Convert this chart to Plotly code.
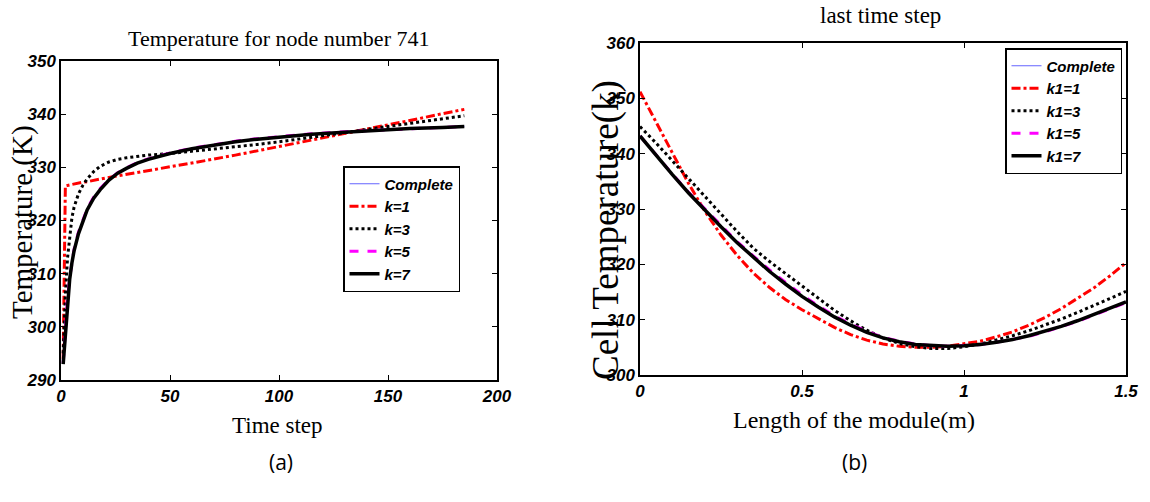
import plotly.graph_objects as go

# ---------------- data: panel (a) ----------------
time_steps = [1, 2, 3, 4, 5, 6, 8, 10, 12, 15, 18, 22, 26, 30, 35, 40, 50, 60, 70,
              80, 90, 100, 115, 130, 145, 160, 175, 185]
a_complete = [293.0, 299.0, 305.0, 309.0, 312.0, 314.3, 317.5, 320.0, 322.0, 324.2,
              325.8, 327.6, 328.9, 329.8, 330.8, 331.5, 332.6, 333.5, 334.2, 334.8,
              335.3, 335.7, 336.2, 336.6, 337.0, 337.3, 337.5, 337.7]
a_k1 = [294.0, 326.5, 326.6, 326.7, 326.8, 326.9, 327.0, 327.2, 327.3, 327.6,
        327.8, 328.1, 328.4, 328.7, 329.1, 329.4, 330.1, 330.8, 331.5, 332.3,
        333.1, 333.9, 335.1, 336.3, 337.5, 338.8, 340.1, 340.9]
a_k3 = [295.0, 306.0, 313.0, 317.5, 320.5, 322.5, 325.0, 326.6, 327.8, 329.2,
        330.2, 331.0, 331.5, 331.8, 332.1, 332.3, 332.6, 333.0, 333.4, 333.8,
        334.3, 334.8, 335.6, 336.5, 337.4, 338.3, 339.1, 339.7]
a_k5 = [293.2, 299.3, 305.3, 309.3, 312.3, 314.6, 317.8, 320.2, 322.2, 324.4,
        326.0, 327.7, 329.0, 329.9, 330.9, 331.6, 332.7, 333.6, 334.3, 334.9,
        335.4, 335.8, 336.3, 336.7, 337.0, 337.3, 337.5, 337.7]
a_k7 = [293.0, 299.0, 305.0, 309.0, 312.0, 314.3, 317.5, 320.0, 322.0, 324.2,
        325.8, 327.6, 328.9, 329.8, 330.8, 331.5, 332.6, 333.5, 334.2, 334.8,
        335.3, 335.7, 336.2, 336.6, 337.0, 337.3, 337.5, 337.7]
a_names = ["Complete", "k=1", "k=3", "k=5", "k=7"]
a_xticks = [0, 50, 100, 150, 200]
a_yticks = [290, 300, 310, 320, 330, 340, 350]

# ---------------- data: panel (b) ----------------
length_m = [0.0, 0.05, 0.1, 0.15, 0.2, 0.25, 0.3, 0.35, 0.4, 0.45, 0.5, 0.55, 0.6,
            0.65, 0.7, 0.75, 0.8, 0.85, 0.9, 0.95, 1.0, 1.05, 1.1, 1.15, 1.2, 1.25,
            1.3, 1.35, 1.4, 1.45, 1.5]
b_complete = [343.2, 339.6, 336.2, 332.9, 329.8, 326.8, 323.9, 321.2, 318.7, 316.4,
              314.2, 312.3, 310.5, 309.0, 307.7, 306.7, 306.0, 305.5, 305.3, 305.2,
              305.3, 305.5, 305.9, 306.4, 307.1, 307.9, 308.8, 309.8, 310.9, 312.0, 313.2]
b_k1 = [351.2, 345.6, 340.2, 334.6, 329.6, 325.3, 321.6, 318.4, 315.8, 313.6,
        311.8, 310.2, 308.6, 307.3, 306.3, 305.6, 305.2, 305.0, 305.0, 305.2,
        305.6, 306.1, 306.9, 307.8, 309.0, 310.4, 312.0, 313.8, 315.7, 317.9, 320.3]
b_k3 = [344.9, 341.9, 338.7, 335.5, 332.2, 329.0, 325.9, 322.9, 320.5, 318.3,
        316.1, 313.9, 311.7, 309.8, 308.1, 306.7, 305.7, 305.1, 304.8, 304.8,
        305.1, 305.6, 306.3, 307.1, 308.0, 309.0, 310.1, 311.3, 312.5, 313.8, 315.1]
b_k5 = [343.2, 339.7, 336.3, 333.0, 330.0, 327.0, 324.1, 321.5, 319.0, 316.7,
        314.5, 312.5, 310.7, 309.2, 307.9, 306.8, 306.1, 305.6, 305.3, 305.2,
        305.3, 305.5, 305.9, 306.4, 307.0, 307.8, 308.7, 309.7, 310.8, 311.9, 313.1]
b_k7 = [343.2, 339.6, 336.2, 332.9, 329.8, 326.8, 323.9, 321.2, 318.7, 316.4,
        314.2, 312.3, 310.5, 309.0, 307.7, 306.7, 306.0, 305.5, 305.3, 305.2,
        305.3, 305.5, 305.9, 306.4, 307.1, 307.9, 308.8, 309.8, 310.9, 312.0, 313.2]
b_names = ["Complete", "k1=1", "k1=3", "k1=5", "k1=7"]
b_xticks = [0, 0.5, 1, 1.5]
b_xticklabels = ["0", "0.5", "1", "1.5"]
b_yticks = [300, 310, 320, 330, 340, 350, 360]

# ---------------- styles ----------------
styles = [
    dict(color="#6464ff", width=1.2, dash="solid"),
    dict(color="#ff0000", width=3, dash="dashdot"),
    dict(color="#000000", width=3, dash="dot"),
    dict(color="#ff00ff", width=3, dash="dash"),
    dict(color="#000000", width=3.5, dash="solid"),
]

SERIF = "Liberation Serif"
TICKFONT = dict(family="Liberation Sans", size=17, color="black", weight="bold", style="italic")
LEGFONT = dict(family="Liberation Sans", size=15, color="black", weight="bold", style="italic")

fig = go.Figure()

for name, ys, st in zip(a_names, [a_complete, a_k1, a_k3, a_k5, a_k7], styles):
    fig.add_trace(go.Scatter(x=time_steps, y=ys, name=name, mode="lines", line=st,
                             xaxis="x", yaxis="y", legend="legend"))
for name, ys, st in zip(b_names, [b_complete, b_k1, b_k3, b_k5, b_k7], styles):
    fig.add_trace(go.Scatter(x=length_m, y=ys, name=name, mode="lines", line=st,
                             xaxis="x2", yaxis="y2", legend="legend2"))

W, H = 1150, 502
def px_x(p):
    return p / W
def px_y(p):
    return 1 - p / H

axis_common = dict(showline=True, linecolor="black", linewidth=1.5, mirror="ticks",
                   ticks="inside", ticklen=5, tickcolor="black", tickwidth=1,
                   showgrid=False, zeroline=False, tickfont=TICKFONT, automargin=False)

fig.update_layout(
    width=W, height=H,
    margin=dict(l=0, r=0, t=0, b=0, autoexpand=False),
    paper_bgcolor="white", plot_bgcolor="white",
    xaxis=dict(domain=[px_x(61), px_x(497)], range=[0, 200], anchor="y",
               tickvals=a_xticks, **axis_common),
    yaxis=dict(domain=[px_y(380), px_y(61)], range=[290, 350], anchor="x",
               tickvals=a_yticks, **axis_common),
    xaxis2=dict(domain=[px_x(640), px_x(1126)], range=[0, 1.5], anchor="y2",
                tickvals=b_xticks, ticktext=b_xticklabels, **axis_common),
    yaxis2=dict(domain=[px_y(375), px_y(43)], range=[300, 360], anchor="x2",
                tickvals=b_yticks, **axis_common),
    legend=dict(x=px_x(343), y=px_y(166), xanchor="left", yanchor="top",
                bgcolor="white", bordercolor="black", borderwidth=1.5,
                font=LEGFONT, tracegroupgap=0, itemwidth=30),
    legend2=dict(x=px_x(1005), y=px_y(48), xanchor="left", yanchor="top",
                 bgcolor="white", bordercolor="black", borderwidth=1.5,
                 font=LEGFONT, tracegroupgap=0, itemwidth=30),
    showlegend=True,
)

annotations = [
    dict(text="Temperature for node number 741", x=px_x(278), y=px_y(38),
         font=dict(family=SERIF, size=22, color="black")),
    dict(text="last time step", x=px_x(880), y=px_y(16),
         font=dict(family=SERIF, size=23, color="black")),
    dict(text="Time step", x=px_x(277), y=px_y(425),
         font=dict(family=SERIF, size=23, color="black")),
    dict(text="Length of the module(m)", x=px_x(854), y=px_y(420),
         font=dict(family=SERIF, size=24, color="black")),
    dict(text="Temperature (K)", x=px_x(22), y=px_y(222), textangle=-90,
         font=dict(family=SERIF, size=29, color="black")),
    dict(text="Cell Temperature(k)", x=px_x(606), y=px_y(230), textangle=-90,
         font=dict(family=SERIF, size=37, color="black")),
    dict(text="(a)", x=px_x(281), y=px_y(462),
         font=dict(family="Open Sans", size=21, color="black")),
    dict(text="(b)", x=px_x(854), y=px_y(462),
         font=dict(family="Open Sans", size=21, color="black")),
]
for a in annotations:
    a.update(xref="paper", yref="paper", showarrow=False, xanchor="center", yanchor="middle")
fig.update_layout(annotations=annotations)

fig.write_html("out.html", config={"displayModeBar": False},
               post_script="document.body.style.margin='0';")
